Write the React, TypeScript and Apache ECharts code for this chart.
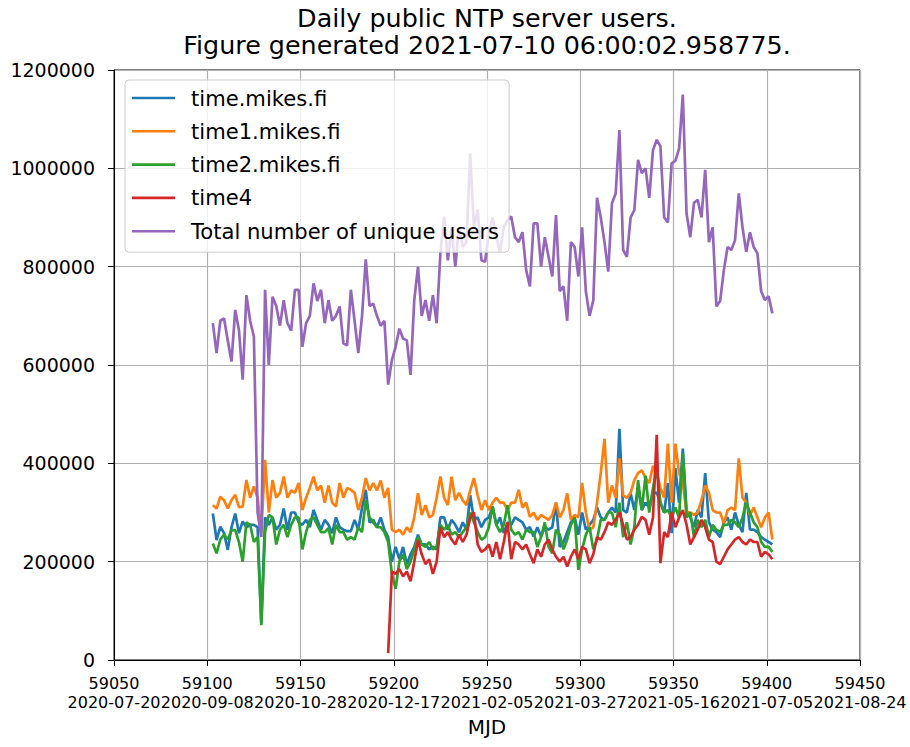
import React, { useEffect, useRef } from "react";
import * as echarts from "echarts";

// Daily samples (every second MJD day), values in thousands of users
const DAY_FIRST = 59103;
const DAY_STEP = 2;
const TIME4_FIRST_DAY = 59197;
const VALUE_UNIT = 1000;

const xTickValues = [59050, 59100, 59150, 59200, 59250, 59300, 59350, 59400, 59450];
const xTickDates = [
  "2020-07-20", "2020-09-08", "2020-10-28", "2020-12-17", "2021-02-05",
  "2021-03-27", "2021-05-16", "2021-07-05", "2021-08-24",
];

const seriesNames = [
  "time.mikes.fi",
  "time1.mikes.fi",
  "time2.mikes.fi",
  "time4",
  "Total number of unique users",
];
const seriesColors = ["#1f77b4", "#ff7f0e", "#2ca02c", "#d62728", "#9467bd"];

const timeMikesK = [
  298, 244, 271, 258, 224, 270, 298, 258, 282, 270,
  275, 275, 270, 75, 290, 275, 290, 265, 275, 308,
  265, 300, 300, 280, 275, 285, 270, 305, 285, 265,
  285, 275, 258, 290, 270, 265, 262, 262, 285, 265,
  310, 346, 280, 285, 270, 290, 265, 250, 200, 230,
  205, 230, 195, 215, 230, 255, 235, 235, 225, 230,
  225, 290, 290, 265, 285, 275, 260, 280, 265, 335,
  285, 290, 270, 285, 290, 312, 275, 290, 258, 280,
  275, 290, 285, 280, 265, 270, 251, 270, 251, 270,
  265, 270, 320, 230, 240, 260, 280, 290, 255, 300,
  265, 275, 285, 310, 290, 285, 300, 310, 300, 470,
  305, 300, 339, 305, 350, 305, 320, 310, 340, 340,
  320, 300, 360, 258, 390, 320, 430, 305, 290, 270,
  305, 290, 380, 280, 265, 260, 250, 280, 290, 265,
  300, 275, 260, 340, 265, 265, 260, 250, 245, 240,
  235,
];

const time1MikesK = [
  315, 308, 332, 325, 308, 325, 336, 311, 312, 366,
  330, 353, 330, 260, 407, 300, 366, 330, 340, 373,
  330, 345, 340, 360, 305, 330, 350, 373, 345, 355,
  320, 355, 320, 312, 360, 330, 350, 346, 340, 305,
  330, 370, 345, 360, 345, 365, 330, 350, 265, 260,
  265, 255, 270, 260, 290, 339, 295, 315, 290, 295,
  330, 373, 330, 315, 373, 325, 340, 325, 315, 345,
  370, 335, 305, 325, 305, 320, 330, 320, 320, 305,
  320, 320, 346, 310, 320, 291, 300, 285, 295, 290,
  285, 295, 320, 290, 305, 339, 285, 295, 290, 360,
  300, 264, 270, 320, 380, 450, 320, 355, 330, 410,
  335, 330, 340, 366, 380, 386, 370, 360, 395, 380,
  350, 330, 440, 320, 440, 380, 360, 300, 300, 295,
  300, 325, 355, 340, 305, 300, 300, 278, 305, 310,
  305, 410, 330, 320, 295, 310, 290, 270, 290, 300,
  245,
];

const time2MikesK = [
  237, 217, 245, 255, 245, 264, 264, 240, 200, 280,
  275, 240, 250, 71, 260, 295, 290, 235, 265, 275,
  250, 275, 290, 290, 225, 260, 285, 290, 275, 260,
  260, 268, 235, 275, 260, 260, 245, 250, 245, 270,
  260, 325, 290, 280, 270, 270, 260, 240, 175, 145,
  200, 215, 185, 200, 225, 250, 235, 230, 240, 225,
  230, 275, 265, 275, 255, 260, 250, 260, 270, 300,
  280, 260, 245, 250, 270, 312, 275, 260, 275, 315,
  265, 255, 260, 245, 265, 260, 260, 230, 250, 280,
  230, 217, 265, 255, 225, 245, 275, 290, 183, 225,
  255, 270, 225, 245, 285, 285, 300, 300, 270, 320,
  250, 280, 235, 270, 366, 305, 375, 300, 350, 390,
  320, 300, 305, 290, 310, 290, 420, 290, 300, 250,
  285, 270, 285, 250, 275, 265, 260, 275, 275, 285,
  280, 270, 290, 320, 300, 280, 270, 240, 230, 230,
  220,
];

// time4 begins at MJD 59197
const time4K = [
  14, 180, 175,
  185, 170, 180, 160, 200, 244, 215, 195, 205, 175,
  200, 270, 250, 260, 245, 235, 255, 240, 255, 290,
  300, 235, 220, 225, 235, 210, 240, 205, 240, 280,
  205, 240, 235, 225, 235, 215, 197, 225, 210, 235,
  245, 225, 210, 200, 210, 190, 210, 225, 205, 230,
  225, 197, 215, 250, 245, 260, 280, 275, 285, 300,
  275, 245, 250, 265, 275, 291, 285, 255, 290, 458,
  197, 260, 250, 300, 270, 290, 305, 275, 235, 250,
  265, 285, 270, 245, 240, 200, 195, 210, 225, 235,
  245, 250, 240, 235, 245, 240, 240, 210, 220, 215,
  205,
];

const totalUniqueK = [
  685, 624, 690, 695, 650, 607, 712, 671, 570, 742,
  690, 658, 300, 250, 753, 600, 739, 720, 680, 732,
  685, 670, 753, 753, 637, 685, 700, 766, 730, 753,
  685, 732, 690, 700, 719, 644, 640, 753, 690, 624,
  700, 815, 720, 725, 700, 680, 690, 560, 610, 637,
  674, 654, 650, 580, 732, 800, 700, 732, 690, 742,
  685, 827, 902, 813, 880, 800, 880, 840, 850, 1030,
  880, 916, 813, 810, 870, 900, 860, 830, 880, 895,
  902, 860, 850, 870, 793, 760, 888, 888, 800, 860,
  820, 780, 905, 750, 760, 690, 850, 840, 780, 880,
  750, 700, 732, 940, 900, 850, 790, 929, 949, 1078,
  834, 820, 900, 915, 1017, 990, 1000, 940, 1037, 1058,
  1045, 900, 890, 1010, 1015, 1040, 1150, 908, 860, 930,
  936, 900, 997, 850, 880, 719, 730, 793, 840, 834,
  854, 949, 880, 830, 870, 840, 827, 750, 732, 740,
  705,
];

const FONT = "DejaVu Sans";

function toPairs(vals: number[], firstDay: number) {
  return vals.map((v, i) => [firstDay + i * DAY_STEP, v * VALUE_UNIT]);
}

export default function App() {
  const ref = useRef<HTMLDivElement>(null);

  useEffect(() => {
    if (!ref.current) return;
    const chart = echarts.init(ref.current, null, { renderer: "svg" });

    const seriesData = [
      toPairs(timeMikesK, DAY_FIRST),
      toPairs(time1MikesK, DAY_FIRST),
      toPairs(time2MikesK, DAY_FIRST),
      toPairs(time4K, TIME4_FIRST_DAY),
      toPairs(totalUniqueK, DAY_FIRST),
    ];

    chart.setOption({
      animation: false,
      textStyle: { fontFamily: FONT },
      graphic: [
        {
          type: "text",
          x: 487,
          y: 4,
          style: {
            text:
              "Daily public NTP server users.\nFigure generated 2021-07-10 06:00:02.958775.",
            align: "center",
            verticalAlign: "top",
            fontSize: 25.4,
            fontFamily: FONT,
            lineHeight: 27.5,
            fill: "#000",
          },
        },
      ],
      grid: {
        left: 114,
        right: 50,
        top: 70,
        bottom: 87,
        show: true,
        borderColor: "#000",
        borderWidth: 1,
        backgroundColor: "transparent",
      },
      legend: {
        orient: "vertical",
        left: 125,
        top: 80,
        icon: "rect",
        itemWidth: 43,
        itemHeight: 2.6,
        itemGap: 11.3,
        padding: [7, 10, 10, 7],
        backgroundColor: "rgba(255,255,255,0.8)",
        borderColor: "#cccccc",
        borderWidth: 1,
        borderRadius: 4,
        textStyle: {
          fontSize: 21.1,
          fontFamily: FONT,
          color: "#000",
          lineHeight: 22,
          padding: [0, 0, 0, 11],
        },
        data: seriesNames,
      },
      xAxis: {
        type: "value",
        min: xTickValues[0],
        max: xTickValues[xTickValues.length - 1],
        interval: 50,
        name: "MJD",
        nameLocation: "middle",
        nameGap: 54,
        nameTextStyle: { fontSize: 20, color: "#000", fontFamily: FONT },
        axisLine: { show: true, onZero: false, lineStyle: { color: "#000", width: 1 } },
        axisTick: { show: true, length: 6, lineStyle: { color: "#000", width: 1 } },
        splitLine: { show: true, lineStyle: { color: "#b0b0b0", width: 1.2 } },
        axisLabel: {
          showMinLabel: true,
          showMaxLabel: true,
          fontSize: 16,
          lineHeight: 19,
          color: "#000",
          margin: 14,
          formatter: (v: number) => {
            const idx = xTickValues.indexOf(Math.round(v));
            return `${Math.round(v)}\n${idx >= 0 ? xTickDates[idx] : ""}`;
          },
        },
      },
      yAxis: {
        type: "value",
        min: 0,
        max: 1200000,
        interval: 200000,
        axisLine: { show: true, onZero: false, lineStyle: { color: "#000", width: 1 } },
        axisTick: { show: true, length: 6, lineStyle: { color: "#000", width: 1 } },
        splitLine: { show: true, lineStyle: { color: "#b0b0b0", width: 1.2 } },
        axisLabel: {
          fontSize: 19,
          color: "#000",
          margin: 19,
          formatter: (v: number) => String(v),
        },
      },
      series: seriesNames.map((name, i) => ({
        type: "line",
        name,
        data: seriesData[i],
        showSymbol: false,
        symbol: "none",
        color: seriesColors[i],
        itemStyle: { color: seriesColors[i] },
        lineStyle: { color: seriesColors[i], width: 2.7 },
        emphasis: { disabled: true },
        z: 2 + i * 0.01,
      })),
    });

    return () => chart.dispose();
  }, []);

  return (
    <div
      ref={ref}
      style={{ position: "absolute", left: 0, top: 0, width: 910, height: 747 }}
    />
  );
}
